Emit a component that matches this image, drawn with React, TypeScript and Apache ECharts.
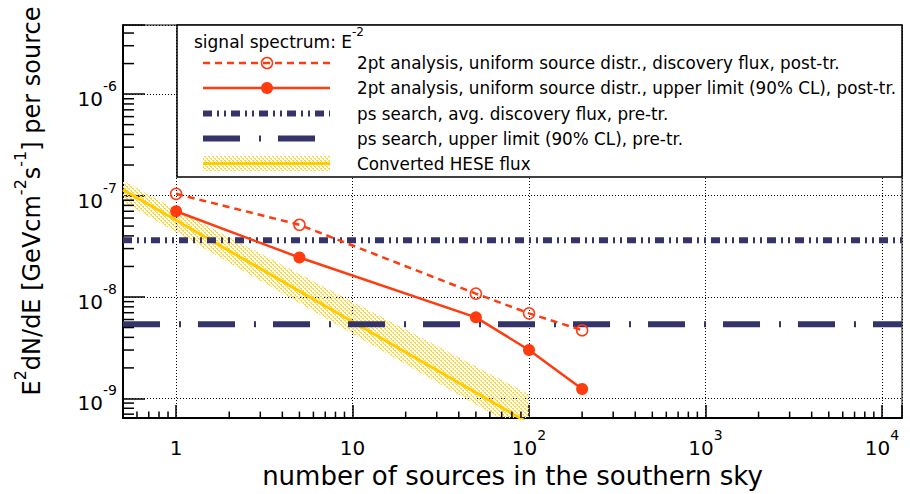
import React, { useEffect, useRef } from 'react';
import * as echarts from 'echarts';

// axis ranges
const X_MIN = 0.5;
const X_MAX = 13000;
const Y_MIN = 6.4e-10;
const Y_MAX = 4.8e-6;

// 2pt analysis
const nSources = [1, 5, 50, 100, 200];
const discoveryFlux = [1.04e-7, 5.15e-8, 1.08e-8, 6.9e-9, 4.7e-9];
const upperLimit = [7.0e-8, 2.45e-8, 6.3e-9, 3.0e-9, 1.24e-9];

// point-source search (horizontal levels)
const psDiscovery = 3.63e-8;
const psUpperLimit = 5.4e-9;

// converted HESE flux with band
const heseN = [0.5, 1, 10, 100];
const heseFlux = [1.14e-7, 5.7e-8, 5.7e-9, 5.7e-10];
const heseLow = [8.7e-8, 4.35e-8, 4.35e-9, 4.35e-10];
const heseHigh = [1.4e-7, 7.3e-8, 9.0e-9, 1.1e-9];

// minor ticks
const xMinorTicks = [
  0.6, 0.7, 0.8, 0.9,
  2, 3, 4, 5, 6, 7, 8, 9,
  20, 30, 40, 50, 60, 70, 80, 90,
  200, 300, 400, 500, 600, 700, 800, 900,
  2000, 3000, 4000, 5000, 6000, 7000, 8000, 9000,
];
const yMinorTicks = [
  7e-10, 8e-10, 9e-10,
  2e-9, 3e-9, 4e-9, 5e-9, 6e-9, 7e-9, 8e-9, 9e-9,
  2e-8, 3e-8, 4e-8, 5e-8, 6e-8, 7e-8, 8e-8, 9e-8,
  2e-7, 3e-7, 4e-7, 5e-7, 6e-7, 7e-7, 8e-7, 9e-7,
  2e-6, 3e-6, 4e-6,
];

const legendTitle = '{b|signal spectrum: E}{sup|-2}';
const legendLabels = [
  '2pt analysis, uniform source distr., discovery flux, post-tr.',
  '2pt analysis, uniform source distr., upper limit (90% CL), post-tr.',
  'ps search, avg. discovery flux, pre-tr.',
  'ps search, upper limit (90% CL), pre-tr.',
  'Converted HESE flux',
];
const xTitle = 'number of sources in the southern sky';
const yTitle = '{b|E}{sup|2}{b|dN/dE [GeVcm}{sup|-2}{b|s}{sup|-1}{b|] per source}';

const FONT = '"DejaVu Sans", sans-serif';
const RED = '#ff3b10';
const NAVY = '#34346a';
const YELLOW = '#ffcc00';
const BAND_DOT = '#ffd838';
const DASH_DISC = [9, 5, 2, 5, 2, 5];
const DASH_UL = [37, 19, 2, 17];
const DASH_RED = [7, 5];

function powLabel(v: number, isX: boolean) {
  const e = Math.log10(v);
  const r = Math.round(e);
  if (Math.abs(e - r) > 1e-6) return '';
  if (isX && r === 0) return '{b|1}';
  if (isX && r === 1) return '{b|10}';
  return '{b|10}{sup|' + r + '}';
}

const labelRich = {
  b: { fontSize: 20, fontFamily: FONT, color: '#000', lineHeight: 30, verticalAlign: 'bottom' },
  sup: { fontSize: 14, fontFamily: FONT, color: '#000', lineHeight: 14, verticalAlign: 'top' },
};

function makeBandFill(): any {
  try {
    const c = document.createElement('canvas');
    c.width = 4;
    c.height = 4;
    const ctx = c.getContext('2d');
    if (!ctx) return 'rgba(255, 214, 20, 0.35)';
    ctx.fillStyle = BAND_DOT;
    ctx.fillRect(0, 0, 2, 1);
    ctx.fillRect(2, 2, 2, 1);
    ctx.fillRect(1, 1, 1, 1);
    ctx.fillRect(3, 3, 1, 1);
    return { image: c, repeat: 'repeat', imageWidth: 4, imageHeight: 4 };
  } catch (e) {
    return 'rgba(255, 214, 20, 0.35)';
  }
}

export default function App() {
  const ref = useRef<HTMLDivElement>(null);
  useEffect(() => {
    if (!ref.current) return;
    const chart = echarts.init(ref.current, null, { renderer: 'svg' });
    const bandFill = makeBandFill();

    const tickData = [
      ...xMinorTicks.map((t) => [t, Y_MIN, 0]),
      ...yMinorTicks.map((t) => [X_MIN, t, 1]),
    ];

    const legendY = [63, 88, 113.5, 138.5, 163.5];
    const LX1 = 203;
    const LX2 = 330;
    const LMID = 267;
    const TX = 357;
    const g: any[] = [];
    g.push({
      type: 'rect',
      z: 100,
      shape: { x: 177, y: 25, width: 725, height: 152 },
      style: { fill: '#fff', stroke: '#000', lineWidth: 1.5 },
    });
    g.push({
      type: 'text',
      z: 101,
      x: 194,
      y: 38,
      style: {
        text: legendTitle,
        fontFamily: FONT,
        fill: '#000',
        verticalAlign: 'middle',
        rich: {
          b: { fontSize: 17, fontFamily: FONT, lineHeight: 24, verticalAlign: 'bottom', fill: '#000' },
          sup: { fontSize: 12, fontFamily: FONT, lineHeight: 12, verticalAlign: 'top', fill: '#000' },
        },
      },
    });
    // row 1
    g.push({ type: 'line', z: 101, shape: { x1: LX1, y1: legendY[0], x2: LX2, y2: legendY[0] }, style: { stroke: RED, lineWidth: 2.5, lineDash: DASH_RED } });
    g.push({ type: 'circle', z: 102, shape: { cx: LMID, cy: legendY[0], r: 5.5 }, style: { fill: 'none', stroke: RED, lineWidth: 1.5 } });
    // row 2
    g.push({ type: 'line', z: 101, shape: { x1: LX1, y1: legendY[1], x2: LX2, y2: legendY[1] }, style: { stroke: RED, lineWidth: 2.5 } });
    g.push({ type: 'circle', z: 102, shape: { cx: LMID, cy: legendY[1], r: 6 }, style: { fill: RED } });
    // row 3
    g.push({ type: 'line', z: 101, shape: { x1: LX1, y1: legendY[2], x2: LX2, y2: legendY[2] }, style: { stroke: NAVY, lineWidth: 6, lineDash: DASH_DISC, lineCap: 'butt' } });
    // row 4
    g.push({ type: 'line', z: 101, shape: { x1: LX1, y1: legendY[3], x2: LX2, y2: legendY[3] }, style: { stroke: NAVY, lineWidth: 6, lineDash: DASH_UL, lineCap: 'butt' } });
    // row 5
    g.push({ type: 'rect', z: 101, shape: { x: LX1, y: legendY[4] - 7.5, width: LX2 - LX1, height: 15 }, style: { fill: bandFill } });
    g.push({ type: 'line', z: 102, shape: { x1: LX1, y1: legendY[4], x2: LX2, y2: legendY[4] }, style: { stroke: YELLOW, lineWidth: 3 } });
    legendLabels.forEach((t, i) => {
      g.push({
        type: 'text',
        z: 101,
        x: TX,
        y: legendY[i],
        style: { text: t, fontSize: 16.8, fontFamily: FONT, fill: '#000', verticalAlign: 'middle' },
      });
    });
    // y title
    g.push({
      type: 'text',
      z: 101,
      x: 28,
      y: 201,
      rotation: Math.PI / 2,
      style: {
        text: yTitle,
        fontFamily: FONT,
        fill: '#000',
        align: 'center',
        verticalAlign: 'middle',
        rich: {
          b: { fontSize: 24, fontFamily: FONT, lineHeight: 32, verticalAlign: 'bottom', fill: '#000' },
          sup: { fontSize: 16, fontFamily: FONT, lineHeight: 16, verticalAlign: 'top', fill: '#000' },
        },
      },
    });

    const option: any = {
      animation: false,
      backgroundColor: '#fff',
      textStyle: { fontFamily: FONT },
      grid: {
        left: 123,
        top: 25,
        width: 779,
        height: 399,
        show: true,
        borderColor: '#000',
        borderWidth: 1,
        backgroundColor: 'transparent',
      },
      xAxis: {
        type: 'log',
        logBase: 10,
        min: X_MIN,
        max: X_MAX,
        name: xTitle,
        nameLocation: 'middle',
        nameGap: 35,
        nameTextStyle: { fontSize: 26, fontFamily: FONT, color: '#000' },
        axisLine: { show: true, onZero: false, lineStyle: { color: '#000', width: 2 } },
        axisTick: { show: true, inside: true, length: 13, lineStyle: { color: '#000', width: 1.5 } },
        minorTick: { show: false },
        splitLine: { show: true, lineStyle: { color: '#000', width: 1, type: [1, 2] } },
        axisLabel: {
          color: '#000',
          fontSize: 20,
          fontFamily: FONT,
          margin: 10,
          formatter: (v: number) => powLabel(v, true),
          rich: labelRich,
        },
      },
      yAxis: {
        type: 'log',
        logBase: 10,
        min: Y_MIN,
        max: Y_MAX,
        axisLine: { show: true, onZero: false, lineStyle: { color: '#000', width: 2 } },
        axisTick: { show: true, inside: true, length: 22, lineStyle: { color: '#000', width: 1.5 } },
        minorTick: { show: false },
        splitLine: { show: true, lineStyle: { color: '#000', width: 1, type: [1, 2] } },
        axisLabel: {
          color: '#000',
          fontSize: 20,
          fontFamily: FONT,
          margin: 6,
          formatter: (v: number) => powLabel(v, false),
          rich: labelRich,
        },
      },
      graphic: g,
      series: [
        {
          type: 'custom',
          name: 'HESE band',
          coordinateSystem: 'cartesian2d',
          silent: true,
          z: 1,
          data: heseN.map((n, i) => [n, heseFlux[i]]),
          renderItem: (params: any, api: any) => {
            if (params.dataIndex !== 0) return null;
            const up = heseN.map((n, i) => api.coord([n, heseHigh[i]]));
            const lo = heseN.map((n, i) => api.coord([n, heseLow[i]])).reverse();
            const cs = params.coordSys;
            return {
              type: 'polygon',
              shape: { points: [...up, ...lo] },
              style: { fill: bandFill },
              clipPath: { type: 'rect', shape: { x: cs.x, y: cs.y, width: cs.width, height: cs.height } },
            };
          },
        },
        {
          type: 'line',
          name: 'Converted HESE flux',
          data: heseN.map((n, i) => [n, heseFlux[i]]),
          symbol: 'none',
          z: 2,
          lineStyle: { color: YELLOW, width: 3 },
        },
        {
          type: 'line',
          name: 'ps search, avg. discovery flux, pre-tr.',
          data: [[X_MIN, psDiscovery], [X_MAX, psDiscovery]],
          symbol: 'none',
          z: 3,
          lineStyle: { color: NAVY, width: 6, type: DASH_DISC, cap: 'butt' },
        },
        {
          type: 'line',
          name: 'ps search, upper limit (90% CL), pre-tr.',
          data: [[X_MIN, psUpperLimit], [X_MAX, psUpperLimit]],
          symbol: 'none',
          z: 3,
          lineStyle: { color: NAVY, width: 6, type: DASH_UL, cap: 'butt' },
        },
        {
          type: 'line',
          name: 'discovery flux',
          data: nSources.map((n, i) => [n, discoveryFlux[i]]),
          symbol: 'circle',
          symbolSize: 11,
          z: 4,
          itemStyle: { color: 'rgba(0,0,0,0)', borderColor: RED, borderWidth: 1.5 },
          lineStyle: { color: RED, width: 2.5, type: DASH_RED },
        },
        {
          type: 'line',
          name: 'upper limit',
          data: nSources.map((n, i) => [n, upperLimit[i]]),
          symbol: 'circle',
          symbolSize: 12,
          z: 4,
          itemStyle: { color: RED },
          lineStyle: { color: RED, width: 2.5 },
        },
        {
          type: 'custom',
          name: 'minor ticks',
          coordinateSystem: 'cartesian2d',
          silent: true,
          z: 5,
          data: tickData,
          renderItem: (params: any, api: any) => {
            const p = api.coord([api.value(0), api.value(1)]);
            const axis = api.value(2);
            const shape =
              axis === 0
                ? { x1: p[0], y1: p[1], x2: p[0], y2: p[1] - 6.5 }
                : { x1: p[0], y1: p[1], x2: p[0] + 11, y2: p[1] };
            return { type: 'line', shape, style: { stroke: '#000', lineWidth: 1.5 } };
          },
        },
      ],
    };
    chart.setOption(option);
    return () => chart.dispose();
  }, []);
  return (
    <div
      ref={ref}
      style={{ position: 'fixed', left: 0, top: 0, width: 910, height: 494, background: '#fff' }}
    />
  );
}
